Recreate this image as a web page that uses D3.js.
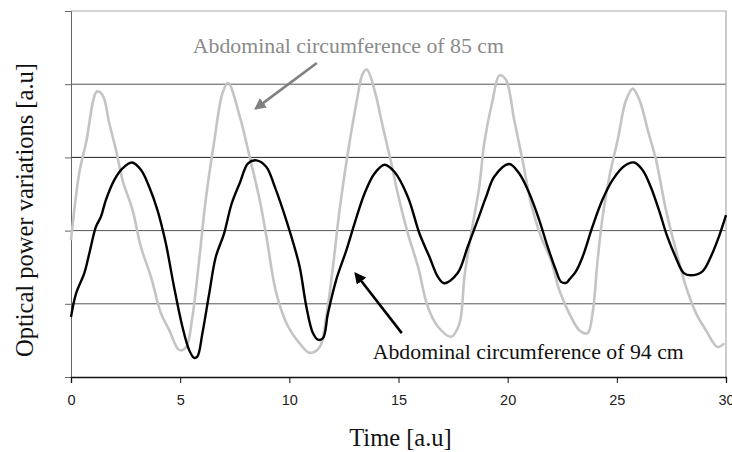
<!DOCTYPE html>
<html>
<head>
<meta charset="utf-8">
<script src="https://cdn.jsdelivr.net/npm/d3@7"></script>
<style>
  body { margin: 0; background: #fff; }
  svg { display: block; }
</style>
</head>
<body>
<div id="vis"></div>
<script>
// traced values, time vs optical power (a.u.)
let t85 = [0, 0.38, 0.69, 1.19, 1.45, 1.75, 2.06, 2.36, 2.82, 3.2, 3.66, 4.12, 4.5, 4.95, 5.26, 5.56, 5.87, 6.17, 6.55, 6.94, 7.19,
  7.73, 8.18, 8.64, 8.95, 9.4, 9.94, 10.47, 10.93, 11.39, 11.69, 12.0, 12.3, 12.68, 13.07, 13.37, 13.55, 13.9, 14.28, 14.67, 14.97,
  15.43, 15.89, 16.34, 16.8, 17.41, 17.79, 18.02, 18.33, 18.7, 18.93, 19.31, 19.62, 19.92, 20.3, 20.68, 21.07, 21.52, 21.98, 22.36,
  22.82, 23.28, 23.66, 23.89, 24.12, 24.35, 24.66, 25.04, 25.42, 25.73, 26.04, 26.42, 26.8, 27.25, 27.71, 28.17, 28.63, 29.08, 29.61, 29.92]
let v85 = [1.87, 2.79, 3.2, 3.9, 3.85, 3.47, 3.1, 2.69, 2.28, 1.78, 1.37, 0.87, 0.64, 0.37, 0.4, 0.82, 1.6, 2.42, 3.2, 3.88, 4.02,
  3.56, 3.01, 2.42, 1.92, 1.15, 0.69, 0.46, 0.33, 0.41, 0.82, 1.51, 2.28, 3.06, 3.74, 4.15, 4.2, 3.92, 3.42, 2.92, 2.5,
  1.96, 1.51, 0.96, 0.69, 0.55, 0.73, 1.37, 1.96, 2.6, 3.2, 3.78, 4.12, 4.06, 3.51, 2.96, 2.37, 1.92, 1.6, 1.19,
  0.87, 0.64, 0.6, 0.87, 1.6, 2.19, 2.74, 3.24, 3.78, 3.94, 3.78, 3.37, 2.96, 2.28, 1.73, 1.23, 0.87, 0.64, 0.41, 0.46]

let t94 = [0, 0.23, 0.61, 0.84, 1.14, 1.37, 1.6, 1.98, 2.36, 2.79, 3.2, 3.58, 3.96, 4.34, 4.72, 5.1, 5.41, 5.64, 5.79, 6.02, 6.33, 6.63, 7.01,
  7.35, 7.73, 8.11, 8.49, 8.95, 9.33, 9.71, 10.09, 10.47, 10.78, 11.08, 11.31, 11.54, 11.77, 12.15, 12.61, 12.99, 13.45, 13.9, 14.36, 14.82,
  15.43, 15.96, 16.42, 16.8, 17.1, 17.71, 18.17, 18.62, 19.01, 19.39, 20.07, 20.53, 20.99, 21.45, 21.83, 22.21, 22.45,
  22.7, 22.82, 23.12, 23.43, 23.88, 24.34, 24.8, 25.33, 25.79, 26.17, 26.55, 26.93, 27.31, 27.69, 28.07, 28.38, 28.91, 29.3, 29.68, 30]
let v94 = [0.82, 1.14, 1.42, 1.69, 2.05, 2.19, 2.42, 2.69, 2.85, 2.93, 2.83, 2.6, 2.28, 1.83, 1.23, 0.69, 0.37, 0.26, 0.28, 0.6, 1.14, 1.64, 1.96,
  2.36, 2.65, 2.92, 2.96, 2.87, 2.6, 2.28, 1.92, 1.51, 0.96, 0.6, 0.51, 0.53, 0.87, 1.33, 1.73, 2.1, 2.51, 2.78, 2.9, 2.8,
  2.46, 1.96, 1.64, 1.37, 1.28, 1.42, 1.78, 2.14, 2.46, 2.74, 2.91, 2.78, 2.51, 2.14, 1.78, 1.46, 1.3,
  1.29, 1.33, 1.44, 1.64, 2.05, 2.42, 2.69, 2.88, 2.93, 2.83, 2.6, 2.28, 1.92, 1.64, 1.42, 1.39, 1.44, 1.64, 1.92, 2.21]

let xTicks = [0, 5, 10, 15, 20, 25, 30]
let yTicks = [0, 1, 2, 3, 4, 5]

let width = 732, height = 452
let margin = { top: 11, left: 71, right: 6, bottom: 75 }

let svg = d3.select('#vis')
  .append('svg')
  .attr('width', width)
  .attr('height', height)

let x = d3.scaleLinear().domain([0, 30]).range([margin.left, width - margin.right])
let y = d3.scaleLinear().domain([0, 5]).range([height - margin.bottom, margin.top])

// grid lines
svg.append('g')
  .selectAll('line')
  .data(yTicks.slice(1, 5))
  .join('line')
  .attr('x1', x(0)).attr('x2', x(30))
  .attr('y1', d => y(d)).attr('y2', d => y(d))
  .attr('stroke', (d, i) => i == 2 ? '#222' : '#555')
  .attr('stroke-width', 1)

// plot border top/right
svg.append('path')
  .attr('d', `M${x(0)},${y(5)}H${x(30)}V${y(0)}`)
  .attr('fill', 'none')
  .attr('stroke', '#aaa')
  .attr('stroke-width', 1.2)

// y axis (no labels)
let yAxis = svg.append('g')
  .attr('transform', `translate(${x(0)},0)`)
  .call(d3.axisLeft(y).tickValues(yTicks).tickSize(6).tickFormat(''))
yAxis.select('.domain').attr('stroke', '#666')
yAxis.selectAll('.tick line').attr('stroke', '#666')

// x axis
let xAxis = svg.append('g')
  .attr('transform', `translate(0,${y(0)})`)
  .call(d3.axisBottom(x).tickValues(xTicks).tickSize(6).tickPadding(12))
xAxis.select('.domain').attr('stroke', '#111').attr('stroke-width', 1.3)
xAxis.selectAll('.tick line').attr('stroke', '#111')
xAxis.selectAll('text')
  .attr('font-family', 'Liberation Sans, Arial, sans-serif')
  .attr('font-size', 14.5)
  .attr('fill', '#222')

let line = d3.line()
  .x(d => x(d[0]))
  .y(d => y(d[1]))
  .curve(d3.curveCatmullRom)

svg.append('path')
  .datum(d3.zip(t85, v85))
  .attr('d', line)
  .attr('fill', 'none')
  .attr('stroke', '#c4c4c4')
  .attr('stroke-width', 2.6)

svg.append('path')
  .datum(d3.zip(t94, v94))
  .attr('d', line)
  .attr('fill', 'none')
  .attr('stroke', '#000')
  .attr('stroke-width', 2.4)

// axis titles
svg.append('text')
  .attr('x', (x(0) + x(30)) / 2 + 2)
  .attr('y', 446)
  .attr('text-anchor', 'middle')
  .attr('font-family', 'Liberation Serif, Times New Roman, serif')
  .attr('font-size', 24.5)
  .attr('fill', '#111')
  .text('Time [a.u]')

svg.append('text')
  .attr('transform', 'translate(33,210) rotate(-90)')
  .attr('text-anchor', 'middle')
  .attr('font-family', 'Liberation Serif, Times New Roman, serif')
  .attr('font-size', 24.5)
  .attr('fill', '#111')
  .text('Optical power variations [a.u]')

// annotations
let defs = svg.append('defs')
function marker(id, color) {
  defs.append('marker')
    .attr('id', id)
    .attr('viewBox', '0 0 10 10')
    .attr('refX', 8).attr('refY', 5)
    .attr('markerWidth', 4.5).attr('markerHeight', 4.5)
    .attr('orient', 'auto')
    .append('path')
    .attr('d', 'M0,0L10,5L0,10z')
    .attr('fill', color)
}
marker('arrGray', '#808080')
marker('arrBlack', '#000')

svg.append('line')
  .attr('x1', x(11.26)).attr('y1', y(4.29))
  .attr('x2', x(8.47)).attr('y2', y(3.67))
  .attr('stroke', '#808080')
  .attr('stroke-width', 2.6)
  .attr('marker-end', 'url(#arrGray)')

svg.append('line')
  .attr('x1', x(15.15)).attr('y1', y(0.6))
  .attr('x2', x(13.04)).attr('y2', y(1.41))
  .attr('stroke', '#000')
  .attr('stroke-width', 2.6)
  .attr('marker-end', 'url(#arrBlack)')

svg.append('text')
  .attr('x', x(5.58)).attr('y', y(4.43))
  .attr('font-family', 'Liberation Serif, Times New Roman, serif')
  .attr('font-size', 21.8)
  .attr('fill', '#8a8a8a')
  .text('Abdominal circumference of 85 cm')

svg.append('text')
  .attr('x', x(13.82)).attr('y', y(0.25))
  .attr('font-family', 'Liberation Serif, Times New Roman, serif')
  .attr('font-size', 21.8)
  .attr('fill', '#111')
  .text('Abdominal circumference of 94 cm')
</script>
</body>
</html>
